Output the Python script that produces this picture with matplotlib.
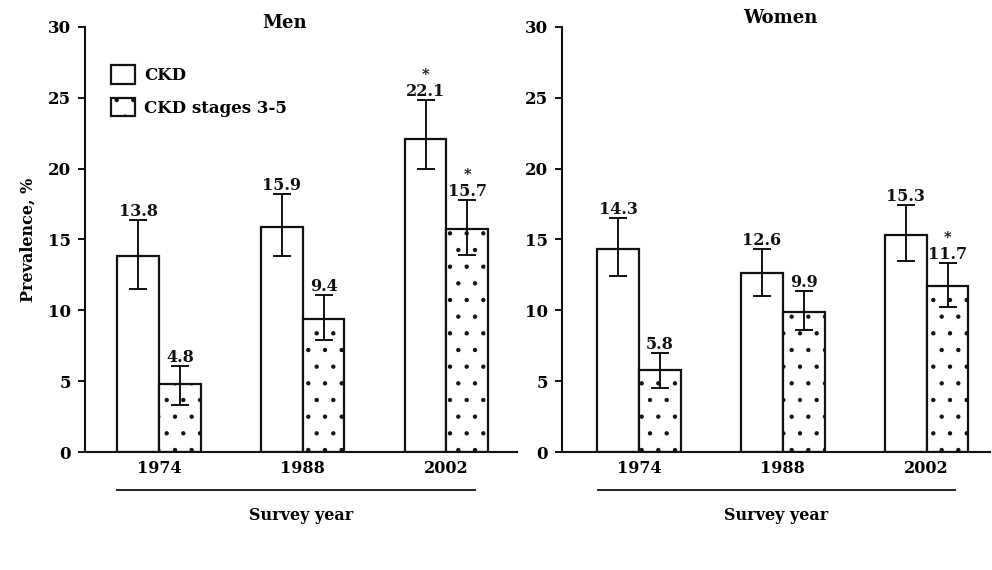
import matplotlib
matplotlib.use("Agg")
import matplotlib.pyplot as plt
import numpy as np

years = ["1974", "1988", "2002"]
series = ["CKD", "CKD stages 3-5"]
panels = ["Men", "Women"]

men_ckd = [13.8, 15.9, 22.1]
men_ckd_lo = [11.5, 13.8, 20.0]
men_ckd_hi = [16.4, 18.2, 24.8]
men_stage = [4.8, 9.4, 15.7]
men_stage_lo = [3.3, 7.9, 13.9]
men_stage_hi = [6.1, 11.1, 17.8]

women_ckd = [14.3, 12.6, 15.3]
women_ckd_lo = [12.4, 11.0, 13.5]
women_ckd_hi = [16.5, 14.3, 17.4]
women_stage = [5.8, 9.9, 11.7]
women_stage_lo = [4.5, 8.6, 10.2]
women_stage_hi = [7.0, 11.35, 13.3]

men_sig = [[False, False, True], [False, False, True]]
women_sig = [[False, False, False], [False, False, True]]

yticks = [0, 5, 10, 15, 20, 25, 30]

plt.rcParams['font.family'] = ['DejaVu Serif']
plt.rcParams['font.weight'] = 'bold'
plt.rcParams['hatch.linewidth'] = 0.7
plt.rcParams['hatch.color'] = '#b0b0b0'

fig = plt.figure(figsize=(9.92, 5.70), dpi=100)
ax1 = fig.add_axes([0.0857, 0.207, 0.4353, 0.746])
ax2 = fig.add_axes([0.5665, 0.207, 0.4315, 0.746])

data = {
    "Men": (men_ckd, men_ckd_lo, men_ckd_hi, men_stage, men_stage_lo, men_stage_hi, men_sig, (-0.516, 2.49), ax1, (0.463, 1.009)),
    "Women": (women_ckd, women_ckd_lo, women_ckd_hi, women_stage, women_stage_lo, women_stage_hi, women_sig, (-0.535, 2.44), ax2, (0.51, 1.02)),
}

w = 0.29
fs = 11.5
for name in panels:
    ckd, clo, chi, st, slo, shi, sig, xl, ax, tpos = data[name]
    x = np.arange(len(years))
    groups = [(ckd, clo, chi, x - w / 2, None), (st, slo, shi, x + w / 2, '.')]
    for si, (vals, lo, hi, xs, hatch) in enumerate(groups):
        vals = np.array(vals); lo = np.array(lo); hi = np.array(hi)
        ax.bar(xs, vals, width=w, facecolor='white', edgecolor='#111111',
               linewidth=1.6, hatch=hatch, label=series[si], zorder=2)
        ax.errorbar(xs, vals, yerr=[vals - lo, hi - vals], fmt='none',
                    ecolor='#111111', elinewidth=1.4, capsize=6.5, capthick=1.4, zorder=3)
        for i in range(len(vals)):
            ax.annotate(f"{vals[i]:.1f}", (xs[i], hi[i]), xytext=(0, 0),
                        textcoords='offset points', ha='center', va='bottom',
                        fontsize=fs, fontweight='bold', color='#111111')
            if sig[si][i]:
                ax.annotate("*", (xs[i], hi[i]), xytext=(0, 13),
                            textcoords='offset points', ha='center', va='bottom',
                            fontsize=fs - 1, fontweight='bold', color='#111111')
    ax.set_xlim(*xl)
    ax.set_ylim(0, 30)
    ax.set_yticks(yticks)
    ax.set_xticks(x)
    ax.set_xticklabels(years)
    ax.tick_params(axis='x', length=0, pad=6, labelsize=fs)
    ax.tick_params(axis='y', length=5, width=1.3, direction='out', labelsize=fs + 0.5, pad=5)
    for s in ['top', 'right']:
        ax.spines[s].set_visible(False)
    for s in ['left', 'bottom']:
        ax.spines[s].set_linewidth(1.5)
        ax.spines[s].set_color('#111111')
    ax.set_xlabel("Survey year", fontsize=fs, fontweight='bold', labelpad=21)
    ax.text(tpos[0], tpos[1], name, transform=ax.transAxes, ha='center', va='center',
            fontsize=fs + 1.5, fontweight='bold')
    x0, x1 = (0.074, 0.903) if name == "Men" else (0.084, 0.918)
    ax.plot([x0, x1], [-0.089, -0.089], transform=ax.transAxes, color='#111111',
            linewidth=1.3, clip_on=False)

ax1.set_ylabel("Prevalence, %", fontsize=fs, fontweight='bold', labelpad=8)
leg = ax1.legend(loc='upper left', bbox_to_anchor=(0.045, 0.925), frameon=False,
                 fontsize=fs + 0.5, handlelength=1.45, handleheight=1.3, handletextpad=0.55,
                 labelspacing=0.85, borderaxespad=0)

fig.savefig("out.png", dpi=100)
